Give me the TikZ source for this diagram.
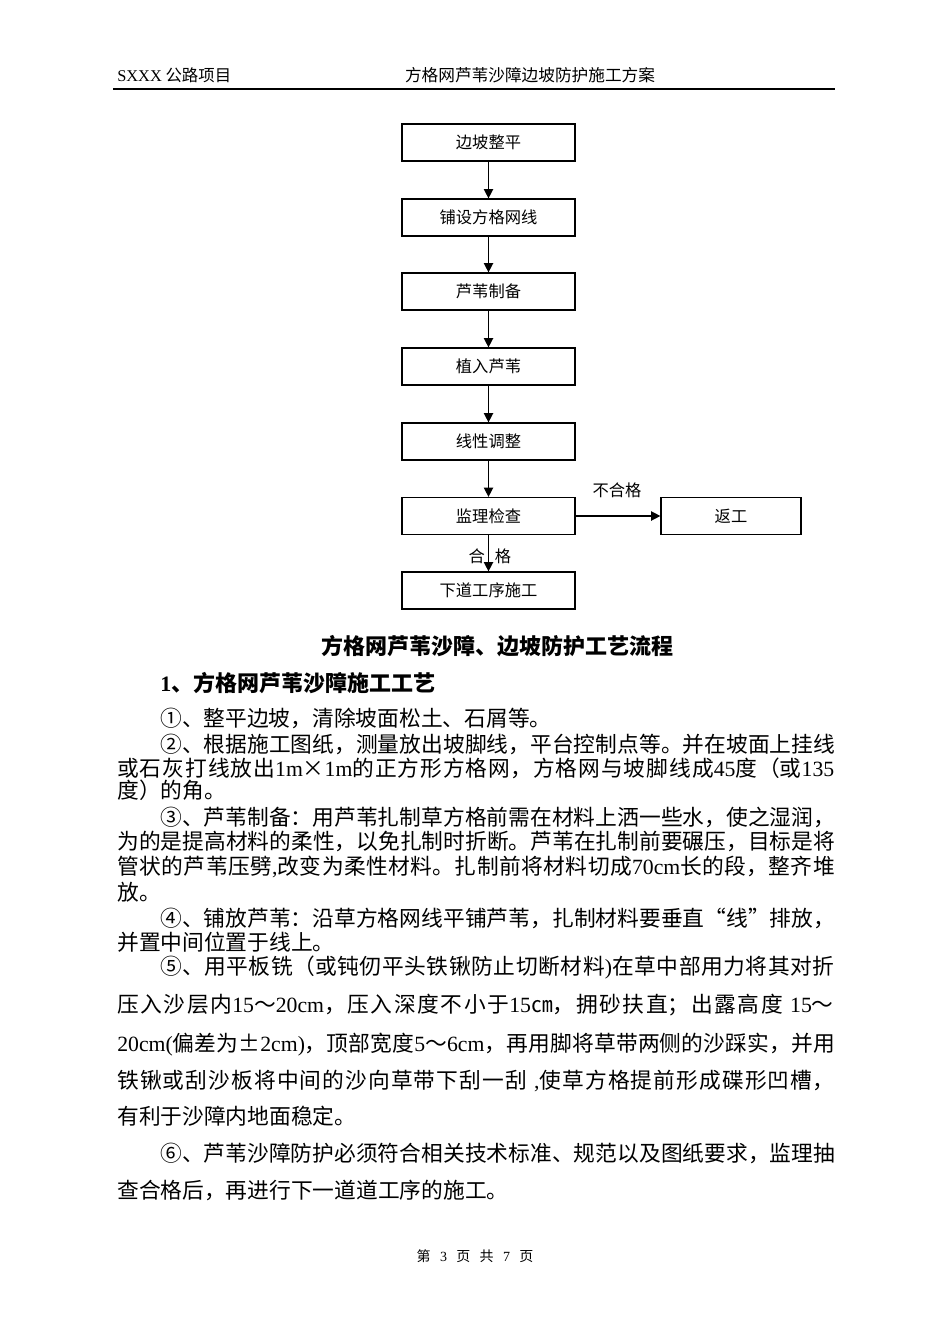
\documentclass[tikz,border=0pt]{standalone}
\usepackage{fontspec}
\setmainfont{Noto Sans CJK SC}
\newfontfamily\tnr{Liberation Serif}
\usetikzlibrary{arrows.meta}
\XeTeXlinebreaklocale "zh"
\XeTeXlinebreakskip=0pt plus 1fil minus 1pt
\newcommand\lt[1]{{\tnr #1}}
\newcommand\bodyfont{\fontsize{16.3pt}{18pt}\selectfont}
\tikzset{
  stepbox/.style={draw, line width=0.9pt, minimum width=129.75pt, minimum height=27.75pt, inner sep=0pt, font=\fontsize{12.2pt}{14pt}\selectfont},
  flowarrow/.style={line width=1pt, -{Triangle[length=7pt,width=7pt]}},
  lbl/.style={inner sep=0pt, font=\fontsize{12.2pt}{14pt}\selectfont},
  jl/.style={anchor=base west, inner sep=0pt, text width=#1, font=\bodyfont},
  nl/.style={anchor=base west, inner sep=0pt, font=\bodyfont},
}
\begin{document}
\begin{tikzpicture}[x=0.75pt, y=-0.75pt]
\useasboundingbox (0,0) rectangle (950,1344);
\fill[white] (0,0) rectangle (950,1344);
% header
\node[anchor=base west, inner sep=0pt, font=\fontsize{12.3pt}{14pt}\selectfont] (h1) at (117,82) {\lt{SXXX} 公路项目};
\node[anchor=base, inner sep=0pt, font=\fontsize{12.5pt}{14pt}\selectfont] (h2) at (530,82) {方格网芦苇沙障边坡防护施工方案};
\coordinate (hl1) at (113,89);
\coordinate (hl2) at (835,89);
\draw[line width=1.1pt] (hl1) -- (hl2);
% flow chart
\node[stepbox] (b1) at (488.5,142.5) {边坡整平};
\node[stepbox] (b2) at (488.5,217.5) {铺设方格网线};
\node[stepbox] (b3) at (488.5,291.5) {芦苇制备};
\node[stepbox] (b4) at (488.5,366.5) {植入芦苇};
\node[stepbox] (b5) at (488.5,441.5) {线性调整};
\node[stepbox] (b6) at (488.5,516) {监理检查};
\node[stepbox] (b7) at (488.5,590.5) {下道工序施工};
\node[stepbox, minimum width=105pt] (b8) at (731,516) {返工};
\draw[flowarrow] (b1) -- (b2);
\draw[flowarrow] (b2) -- (b3);
\draw[flowarrow] (b3) -- (b4);
\draw[flowarrow] (b4) -- (b5);
\draw[flowarrow] (b5) -- (b6);
\draw[flowarrow] (b6) -- (b7);
\draw[flowarrow] (b6) -- (b8);
\node[lbl] (l1) at (617,490) {不合格};
\node[lbl] (l2) at (490,556) {合\hspace{7.5pt}格};
% titles
\node[anchor=base, inner sep=0pt, font=\fontsize{16.5pt}{18pt}\selectfont\bfseries] (t1) at (497,654) {方格网芦苇沙障、边坡防护工艺流程};
\node[anchor=base west, inner sep=0pt, font=\fontsize{16.5pt}{18pt}\selectfont\bfseries] (t2) at (160,691) {\lt{\bfseries 1}、方格网芦苇沙障施工工艺};
% body
\node[nl] (p1) at (160,726) {①、整平边坡，清除坡面松土、石屑等。};
\node[jl=506.25pt] (p2) at (160,752) {\noindent\parfillskip=0pt\relax ②、根据施工图纸，测量放出坡脚线，平台控制点等。并在坡面上挂线};
\node[jl=538.5pt] (p3) at (117,776) {\noindent\parfillskip=0pt\relax 或石灰打线放出\lt{1m}×\lt{1m}的正方形方格网，方格网与坡脚线成\lt{45}度（或\lt{135}};
\node[nl] (p4) at (117,798) {度）的角。};
\node[jl=506.25pt] (p5) at (160,825) {\noindent\parfillskip=0pt\relax ③、芦苇制备：用芦苇扎制草方格前需在材料上洒一些水，使之湿润，};
\node[jl=538.5pt] (p6) at (117,849) {\noindent\parfillskip=0pt\relax 为的是提高材料的柔性，以免扎制时折断。芦苇在扎制前要碾压，目标是将};
\node[jl=538.5pt] (p7) at (117,874) {\noindent\parfillskip=0pt\relax 管状的芦苇压劈\lt{,}改变为柔性材料。扎制前将材料切成\lt{70cm}长的段，整齐堆};
\node[nl] (p8) at (117,900) {放。};
\node[jl=506.25pt] (p9) at (160,926) {\noindent\parfillskip=0pt\relax ④、铺放芦苇：沿草方格网线平铺芦苇，扎制材料要垂直“线”排放，};
\node[nl] (p10) at (117,950) {并置中间位置于线上。};
\node[jl=506.25pt] (p11) at (160,974) {\noindent\parfillskip=0pt\relax ⑤、用平板铣（或钝仞平头铁锹防止切断材料\lt{)}在草中部用力将其对折};
\node[jl=538.5pt] (p12) at (117,1012) {\noindent\parfillskip=0pt\relax 压入沙层内\lt{15}～\lt{20cm}，压入深度不小于\lt{15}㎝，拥砂扶直；出露高度\lt{ 15}～};
\node[jl=538.5pt] (p13) at (117,1051) {\noindent\parfillskip=0pt\relax \lt{20cm(}偏差为±\lt{2cm)}，顶部宽度\lt{5}～\lt{6cm}，再用脚将草带两侧的沙踩实，并用};
\node[jl=538.5pt] (p14) at (117,1088) {\noindent\parfillskip=0pt\relax 铁锹或刮沙板将中间的沙向草带下刮一刮\lt{ ,}使草方格提前形成碟形凹槽，};
\node[nl] (p15) at (117,1124) {有利于沙障内地面稳定。};
\node[jl=506.25pt] (p16) at (160,1161) {\noindent\parfillskip=0pt\relax ⑥、芦苇沙障防护必须符合相关技术标准、规范以及图纸要求，监理抽};
\node[nl] (p17) at (117,1198) {查合格后，再进行下一道道工序的施工。};
% footer
\node[anchor=base, inner sep=0pt, font=\fontsize{10.5pt}{13pt}\selectfont] (f1) at (475,1261) {第\hspace{7pt}\lt{3}\hspace{7pt}页\hspace{7pt}共\hspace{7pt}\lt{7}\hspace{7pt}页};
\end{tikzpicture}
\end{document}
